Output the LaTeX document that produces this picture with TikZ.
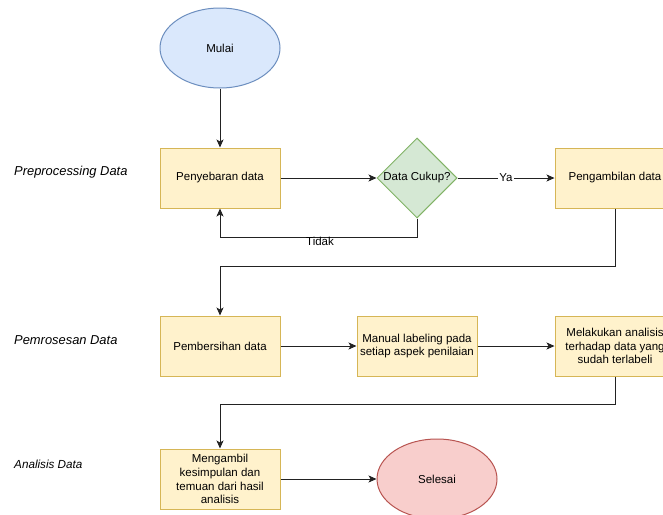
\documentclass[tikz,border=0pt]{standalone}
\usepackage{fontspec}
\setmainfont{Liberation Sans}
\usetikzlibrary{shapes.geometric,arrows.meta,calc}
\definecolor{yfill}{HTML}{FFF2CC}\definecolor{ydraw}{HTML}{D6B656}
\definecolor{bfill}{HTML}{DAE8FC}\definecolor{bdraw}{HTML}{6C8EBF}
\definecolor{gfill}{HTML}{D5E8D4}\definecolor{gdraw}{HTML}{82B366}
\definecolor{rfill}{HTML}{F8CECC}\definecolor{rdraw}{HTML}{B85450}
\definecolor{linec}{HTML}{222222}
\tikzset{
  txt/.style={font=\fontsize{11.5}{13.8}\selectfont, text=black},
  procbox/.style={txt, rectangle, draw=ydraw, fill=yfill, line width=1pt, minimum width=120pt, minimum height=60pt, inner sep=0pt, align=center},
  startend/.style={txt, ellipse, line width=1pt, minimum width=120pt, minimum height=80pt, inner sep=0pt},
  decision/.style={txt, diamond, draw=gdraw, fill=gfill, line width=1pt, minimum width=80pt, minimum height=80pt, inner sep=0pt, aspect=1},
  arr/.style={draw=linec, line width=0.9pt, -{Stealth[length=8pt,width=7pt,inset=2pt]}},
  lane/.style={text=black, anchor=west, inner sep=0pt},
  lbl/.style={txt, inner sep=1pt}
}
\begin{document}
\begin{tikzpicture}[x=1pt,y=-1pt]
\useasboundingbox (0,0) rectangle (663,514);
\clip (0,0) rectangle (663,514);
\fill[white] (0,0) rectangle (663,514);

\node[startend, draw=bdraw, fill=bfill] (mulai) at (220,48) {Mulai};
\node[procbox] (peny) at (220,178) {Penyebaran data};
\node[decision] (cek) at (417,178) {Data Cukup?};
\node[procbox] (ambil) at (615,178) {Pengambilan data};

\node[procbox] (bersih) at (220,346) {Pembersihan data};
\node[procbox] (manual) at (417,346) {Manual labeling pada\\setiap aspek penilaian};
\node[procbox] (analisis) at (615,346) {Melakukan analisis\\terhadap data yang\\sudah terlabeli};

\node[procbox] (simpul) at (220,479) {Mengambil\\kesimpulan dan\\temuan dari hasil\\analisis};
\node[startend, draw=rdraw, fill=rfill] (selesai) at (437,479) {Selesai};

\node[lane, font=\fontsize{12.9}{15}\selectfont\itshape] (l1) at (14,172) {Preprocessing Data};
\node[lane, font=\fontsize{12.9}{15}\selectfont\itshape] (l2) at (14,340) {Pemrosesan Data};
\node[lane, font=\fontsize{11.7}{14}\selectfont\itshape] (l3) at (14,464) {Analisis Data};

\draw[arr] (mulai) -- (peny);
\draw[arr] (peny) -- (cek);
\draw[arr] (cek) -- node[lbl, fill=white, pos=0.5] (ya) {Ya} (ambil);
\draw[arr] (cek.south) -- ++(0,19) -| (peny.south);
\node[lbl] (tidak) at (320,241) {Tidak};
\draw[arr] (ambil.south) -- ++(0,58) -| (bersih.north);
\draw[arr] (bersih) -- (manual);
\draw[arr] (manual) -- (analisis);
\draw[arr] (analisis.south) -- ++(0,28) -| (simpul.north);
\draw[arr] (simpul) -- (selesai);
\end{tikzpicture}
\end{document}
